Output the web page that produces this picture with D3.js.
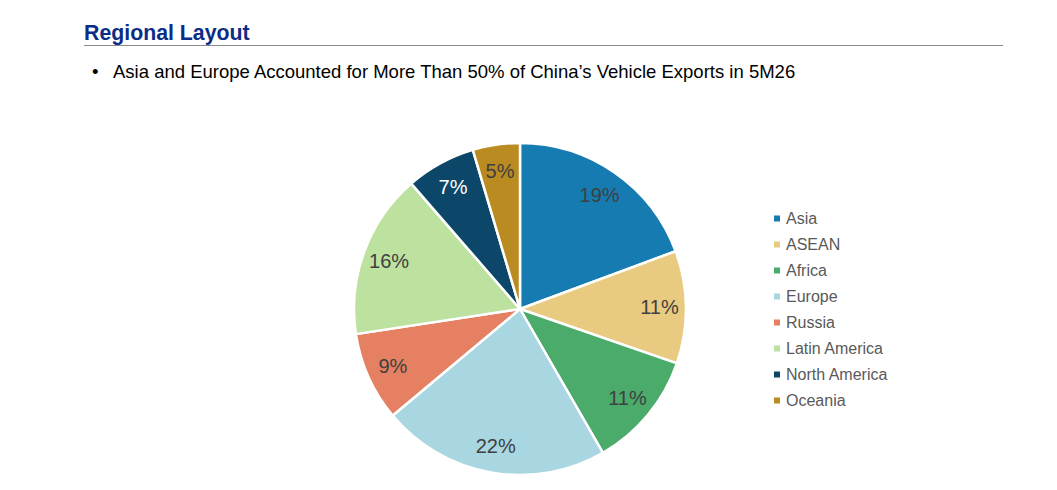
<!DOCTYPE html>
<html>
<head>
<meta charset="utf-8">
<script src="https://cdn.jsdelivr.net/npm/d3@7"></script>
<style>
  body { margin: 0; background: #fff; }
  text { font-family: Arial, "Liberation Sans", sans-serif; }
</style>
</head>
<body>
<svg id="chart" width="1057" height="490"></svg>
<script>
// regions, shares (%) and colours
var regions = ["Asia", "ASEAN", "Africa", "Europe", "Russia", "Latin America", "North America", "Oceania"];
var shares = [19.4, 11.0, 11.4, 22.3, 8.7, 16.1, 6.8, 4.6];
var colors = ["#157bb0", "#e8cb80", "#4aab6a", "#a8d6e1", "#e58063", "#bde2a0", "#0c4769", "#b98b20"];
var labelColors = ["#404040", "#404040", "#404040", "#404040", "#404040", "#404040", "#ffffff", "#404040"];

var svg = d3.select("#chart");

//header
svg.append("text")
    .attr("x", 84).attr("y", 40)
    .attr("font-size", 21.3).attr("font-weight", "bold")
    .attr("fill", "#0b2d86")
    .text("Regional Layout");

svg.append("line")
    .attr("x1", 84).attr("x2", 1003)
    .attr("y1", 45.5).attr("y2", 45.5)
    .attr("stroke", "#8c8c8c").attr("stroke-width", 1);

svg.append("text")
    .attr("x", 92).attr("y", 78)
    .attr("font-size", 18.5).attr("fill", "#000")
    .text("•");
svg.append("text")
    .attr("x", 113).attr("y", 78)
    .attr("font-size", 18.5).attr("fill", "#000")
    .text("Asia and Europe Accounted for More Than 50% of China’s Vehicle Exports in 5M26");

//pie
var cx = 520, cy = 309, radius = 166;

var pie = d3.pie().sort(null).value(function(d) { return d; });
var arc = d3.arc().innerRadius(0).outerRadius(radius);
var labelArc = d3.arc().innerRadius(radius * 0.84).outerRadius(radius * 0.84);

var g = svg.append("g").attr("transform", "translate(" + cx + "," + cy + ")");
var slices = pie(shares);

g.selectAll("path")
    .data(slices)
    .enter().append("path")
    .attr("d", arc)
    .attr("fill", function(d, i) { return colors[i]; })
    .attr("stroke", "#fff")
    .attr("stroke-width", 2.5)
    .attr("stroke-linejoin", "round");

g.selectAll("text.pct")
    .data(slices)
    .enter().append("text")
    .attr("class", "pct")
    .attr("transform", function(d) { return "translate(" + labelArc.centroid(d) + ")"; })
    .attr("text-anchor", "middle")
    .attr("dy", "0.35em")
    .attr("font-size", 20)
    .attr("fill", function(d, i) { return labelColors[i]; })
    .text(function(d) { return Math.round(d.data) + "%"; });

//legend
var legend_y = d3.scaleBand()
    .domain(regions)
    .range([205, 413]);

var legend = svg.append("g").selectAll("g")
    .data(regions)
    .enter().append("g")
    .attr("transform", function(d) { return "translate(774," + (legend_y(d) + legend_y.bandwidth() / 2) + ")"; });

legend.append("rect")
    .attr("x", 0).attr("y", -2.5)
    .attr("width", 6).attr("height", 6)
    .attr("fill", function(d, i) { return colors[i]; });

legend.append("text")
    .attr("x", 12).attr("y", 0)
    .attr("dy", "0.35em")
    .attr("font-size", 16)
    .attr("fill", "#595959")
    .text(function(d) { return d; });
</script>
</body>
</html>
